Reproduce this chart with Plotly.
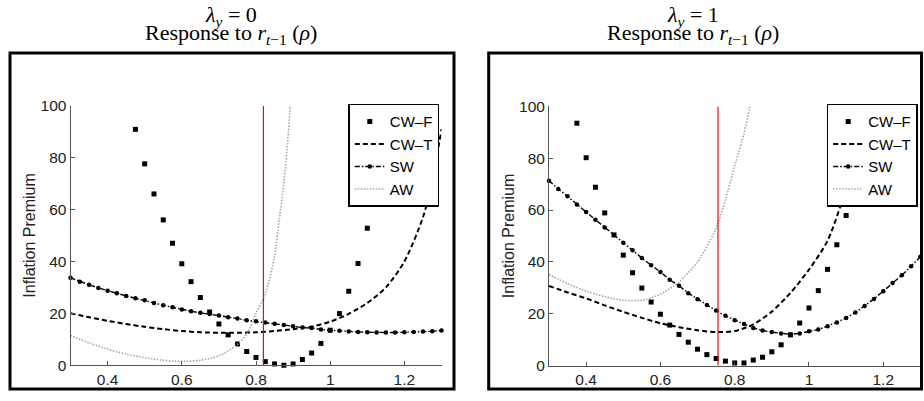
import plotly.graph_objects as go

# ---------------- data ----------------
# Left panel (lambda_y = 0)
cwf0_x = [0.475, 0.5, 0.525, 0.55, 0.575, 0.6, 0.625, 0.65, 0.675, 0.7, 0.725, 0.75, 0.775, 0.8,
          0.825, 0.85, 0.875, 0.9, 0.925, 0.95, 0.975, 1.0, 1.025, 1.05, 1.075, 1.1, 1.125, 1.15]
cwf0_y = [90.9, 77.6, 66.0, 56.0, 47.0, 39.1, 32.2, 26.1, 20.5, 15.9, 11.7, 8.2, 5.3, 3.0,
          1.4, 0.5, 0.0, 0.5, 2.2, 4.7, 8.4, 13.5, 19.9, 28.5, 39.2, 52.8, 69.4, 89.0]

sw_x = [0.3, 0.325, 0.35, 0.375, 0.4, 0.425, 0.45, 0.475, 0.5, 0.525, 0.55, 0.575, 0.6, 0.625,
        0.65, 0.675, 0.7, 0.725, 0.75, 0.775, 0.8, 0.825, 0.85, 0.875, 0.9, 0.925, 0.95, 0.975,
        1.0, 1.025, 1.05, 1.075, 1.1, 1.125, 1.15, 1.175, 1.2, 1.225, 1.25, 1.275, 1.3]
sw0_y = [33.7, 32.2, 31.0, 29.8, 28.7, 27.7, 26.7, 25.8, 25.0, 24.0, 23.1, 22.3, 21.5, 20.8,
         20.2, 19.7, 19.2, 18.5, 18.0, 17.3, 16.9, 16.5, 16.0, 15.5, 15.0, 14.5, 14.3, 13.8,
         13.4, 13.3, 13.0, 12.8, 12.7, 12.6, 12.6, 12.6, 12.7, 12.8, 13.0, 13.1, 13.4]

cwt0_x = [0.3, 0.35, 0.4, 0.45, 0.5, 0.55, 0.6, 0.65, 0.7, 0.75, 0.8, 0.85, 0.9, 0.95, 1.0,
          1.05, 1.1, 1.15, 1.2, 1.25, 1.275, 1.3]
cwt0_y = [20.0, 18.5, 17.1, 15.9, 14.8, 13.9, 13.2, 12.7, 12.5, 12.5, 12.7, 13.2, 13.9, 14.9,
          16.8, 19.8, 24.0, 30.0, 40.0, 57.0, 71.0, 91.0]

aw0_x = [0.3, 0.35, 0.4, 0.45, 0.5, 0.55, 0.6, 0.65, 0.7, 0.75, 0.775, 0.8, 0.825, 0.85,
         0.8625, 0.875, 0.8875, 0.895]
aw0_y = [11.5, 8.6, 6.2, 4.3, 2.9, 1.9, 1.5, 1.9, 3.6, 8.0, 12.0, 20.0, 27.5, 42.0,
         56.0, 70.0, 90.0, 106.0]

red0_x = 0.82

# Right panel (lambda_y = 1)
cwf1_x = [0.375, 0.4, 0.425, 0.45, 0.475, 0.5, 0.525, 0.55, 0.575, 0.6, 0.625, 0.65, 0.675,
          0.7, 0.725, 0.75, 0.775, 0.8, 0.825, 0.85, 0.875, 0.9, 0.925, 0.95, 0.975, 1.0,
          1.025, 1.05, 1.075, 1.1, 1.125]
cwf1_y = [93.5, 80.2, 68.8, 58.9, 50.4, 42.6, 35.8, 29.9, 24.5, 19.8, 15.6, 12.0, 9.0,
          6.3, 4.2, 2.7, 1.7, 1.0, 1.0, 2.1, 3.2, 5.3, 8.0, 11.8, 16.4, 22.2,
          28.9, 37.1, 46.6, 57.9, 71.0]

sw1_y = [71.3, 68.1, 65.3, 62.1, 59.2, 56.3, 53.3, 50.4, 47.4, 44.5, 41.5, 38.7, 36.1, 33.1,
         30.8, 27.9, 25.6, 23.4, 21.2, 19.2, 17.5, 16.0, 14.5, 13.5, 12.9, 12.4, 12.0, 12.4,
         13.2, 13.9, 15.2, 16.6, 18.3, 20.5, 23.0, 25.7, 28.7, 31.8, 34.8, 38.3, 42.0]

cwt1_x = [0.3, 0.35, 0.4, 0.45, 0.5, 0.55, 0.6, 0.65, 0.7, 0.75, 0.8, 0.85, 0.9, 0.95, 1.0,
          1.05, 1.1, 1.15, 1.2]
cwt1_y = [30.7, 28.2, 25.9, 23.2, 20.7, 18.4, 16.3, 14.8, 13.6, 12.9, 13.3, 15.9, 20.8, 28.0,
          37.0, 48.2, 68.5, 95.0, 130.0]

aw1_x = [0.3, 0.35, 0.4, 0.45, 0.5, 0.55, 0.6, 0.65, 0.7, 0.75, 0.775, 0.8, 0.825, 0.84, 0.85]
aw1_y = [35.1, 31.6, 28.7, 26.6, 25.2, 25.2, 27.5, 32.3, 40.0, 53.0, 64.0, 77.0, 89.5, 99.5, 106.0]

red1_x = 0.755

series_names = ["CW–F", "CW–T", "SW", "AW"]
x_tickvals = [0.4, 0.6, 0.8, 1.0, 1.2]
x_ticktext = ["0.4", "0.6", "0.8", "1", "1.2"]
y_tickvals = [0, 20, 40, 60, 80, 100]
y_ticktext = ["0", "20", "40", "60", "80", "100"]
panel_titles = ["<i>λ</i><sub><i>y</i></sub> = 0", "<i>λ</i><sub><i>y</i></sub> = 1"]
panel_subtitle = "Response to <i>r</i><sub><i>t</i>−1</sub> (<i>ρ</i>)"
y_title = "Inflation Premium"

# ---------------- figure ----------------
W, H = 924, 401
SANS = "Liberation Sans, Arial, Helvetica, sans-serif"
SERIF = "Liberation Serif, Times New Roman, serif"

fig = go.Figure()

panels = [
    dict(xa="x", ya="y", leg="legend", cwf=(cwf0_x, cwf0_y), cwt=(cwt0_x, cwt0_y),
         sw=(sw_x, sw0_y), aw=(aw0_x, aw0_y)),
    dict(xa="x2", ya="y2", leg="legend2", cwf=(cwf1_x, cwf1_y), cwt=(cwt1_x, cwt1_y),
         sw=(sw_x, sw1_y), aw=(aw1_x, aw1_y)),
]

for p in panels:
    fig.add_trace(go.Scatter(x=p["cwf"][0], y=p["cwf"][1], mode="markers", name=series_names[0],
                             marker=dict(symbol="square", size=5, color="black"),
                             xaxis=p["xa"], yaxis=p["ya"], legend=p["leg"], cliponaxis=False))
    fig.add_trace(go.Scatter(x=p["cwt"][0], y=p["cwt"][1], mode="lines", name=series_names[1],
                             line=dict(color="black", width=2, dash="5px,3px", shape="spline",
                                       smoothing=0.8),
                             xaxis=p["xa"], yaxis=p["ya"], legend=p["leg"]))
    fig.add_trace(go.Scatter(x=p["sw"][0], y=p["sw"][1], mode="lines+markers", name=series_names[2],
                             line=dict(color="black", width=1.4, dash="5px,2px,1.5px,2px"),
                             marker=dict(symbol="circle", size=4.5, color="black"),
                             xaxis=p["xa"], yaxis=p["ya"], legend=p["leg"], cliponaxis=False))
    fig.add_trace(go.Scatter(x=p["aw"][0], y=p["aw"][1], mode="lines", name=series_names[3],
                             line=dict(color="#a6a6a6", width=1.6, dash="1.5px,1.5px",
                                       shape="spline", smoothing=0.8),
                             xaxis=p["xa"], yaxis=p["ya"], legend=p["leg"]))

axis_common = dict(showline=True, linecolor="#555", linewidth=1, ticks="inside", ticklen=4,
                   tickcolor="#555", showgrid=False, zeroline=False, mirror=False,
                   tickfont=dict(family=SANS, size=15.5, color="#222"))

xdom = [[70.5 / W, 441.5 / W], [549 / W, 920.4 / W]]
ydom = [[1 - 372 / H, 1 - 101 / H], [1 - 372.3 / H, 1 - 101.7 / H]]

layout = dict(
    width=W, height=H, margin=dict(l=0, r=0, t=0, b=0),
    paper_bgcolor="white", plot_bgcolor="white",
    font=dict(family=SANS, color="black"),
)
for i, (xn, yn, xa, ya) in enumerate([("xaxis", "yaxis", "x", "y"), ("xaxis2", "yaxis2", "x2", "y2")]):
    layout[xn] = dict(domain=xdom[i], anchor=ya, range=[0.3, 1.3],
                      tickvals=x_tickvals, ticktext=x_ticktext, **axis_common)
    layout[yn] = dict(domain=ydom[i], anchor=xa, range=[0, 100],
                      tickvals=y_tickvals, ticktext=y_ticktext,
                      title=dict(text=y_title, font=dict(family=SANS, size=16, color="#222"),
                                 standoff=0),
                      **axis_common)

leg_common = dict(bgcolor="white", bordercolor="black", borderwidth=1.5,
                  font=dict(family=SANS, size=15, color="black"),
                  xanchor="right", yanchor="top", tracegroupgap=0, itemwidth=30)
layout["legend"] = dict(x=439.3 / W, y=1 - 99 / H, **leg_common)
layout["legend2"] = dict(x=917.7 / W, y=1 - 99 / H, **leg_common)

fig.update_layout(**layout)

# red reference lines
for red_x, xa, ya in [(red0_x, "x", "y"), (red1_x, "x2", "y2")]:
    fig.add_shape(type="line", xref=xa, yref=ya, x0=red_x, x1=red_x, y0=0, y1=100,
                  line=dict(color="red", width=1.2), layer="above")

# panel frames
for x0, x1 in [(10, 454), (488.7, 921.5)]:
    fig.add_shape(type="rect", xref="paper", yref="paper", x0=x0 / W, x1=x1 / W,
                  y0=1 - 396.7 / H, y1=1 - 46 / H, line=dict(color="black", width=3),
                  fillcolor="rgba(0,0,0,0)", layer="above")

# titles
for cx, t in zip([231, 693], panel_titles):
    fig.add_annotation(x=cx / W, y=1 - 7 / H, xref="paper", yref="paper", text=t,
                       showarrow=False, xanchor="center", yanchor="middle",
                       font=dict(family=SERIF, size=22, color="black"))
    fig.add_annotation(x=cx / W, y=1 - 26 / H, xref="paper", yref="paper", text=panel_subtitle,
                       showarrow=False, xanchor="center", yanchor="middle",
                       font=dict(family=SERIF, size=22, color="black"))

fig.write_html("out.html", config={"displayModeBar": False},
               post_script="document.body.style.margin='0px';document.body.style.padding='0px';")
